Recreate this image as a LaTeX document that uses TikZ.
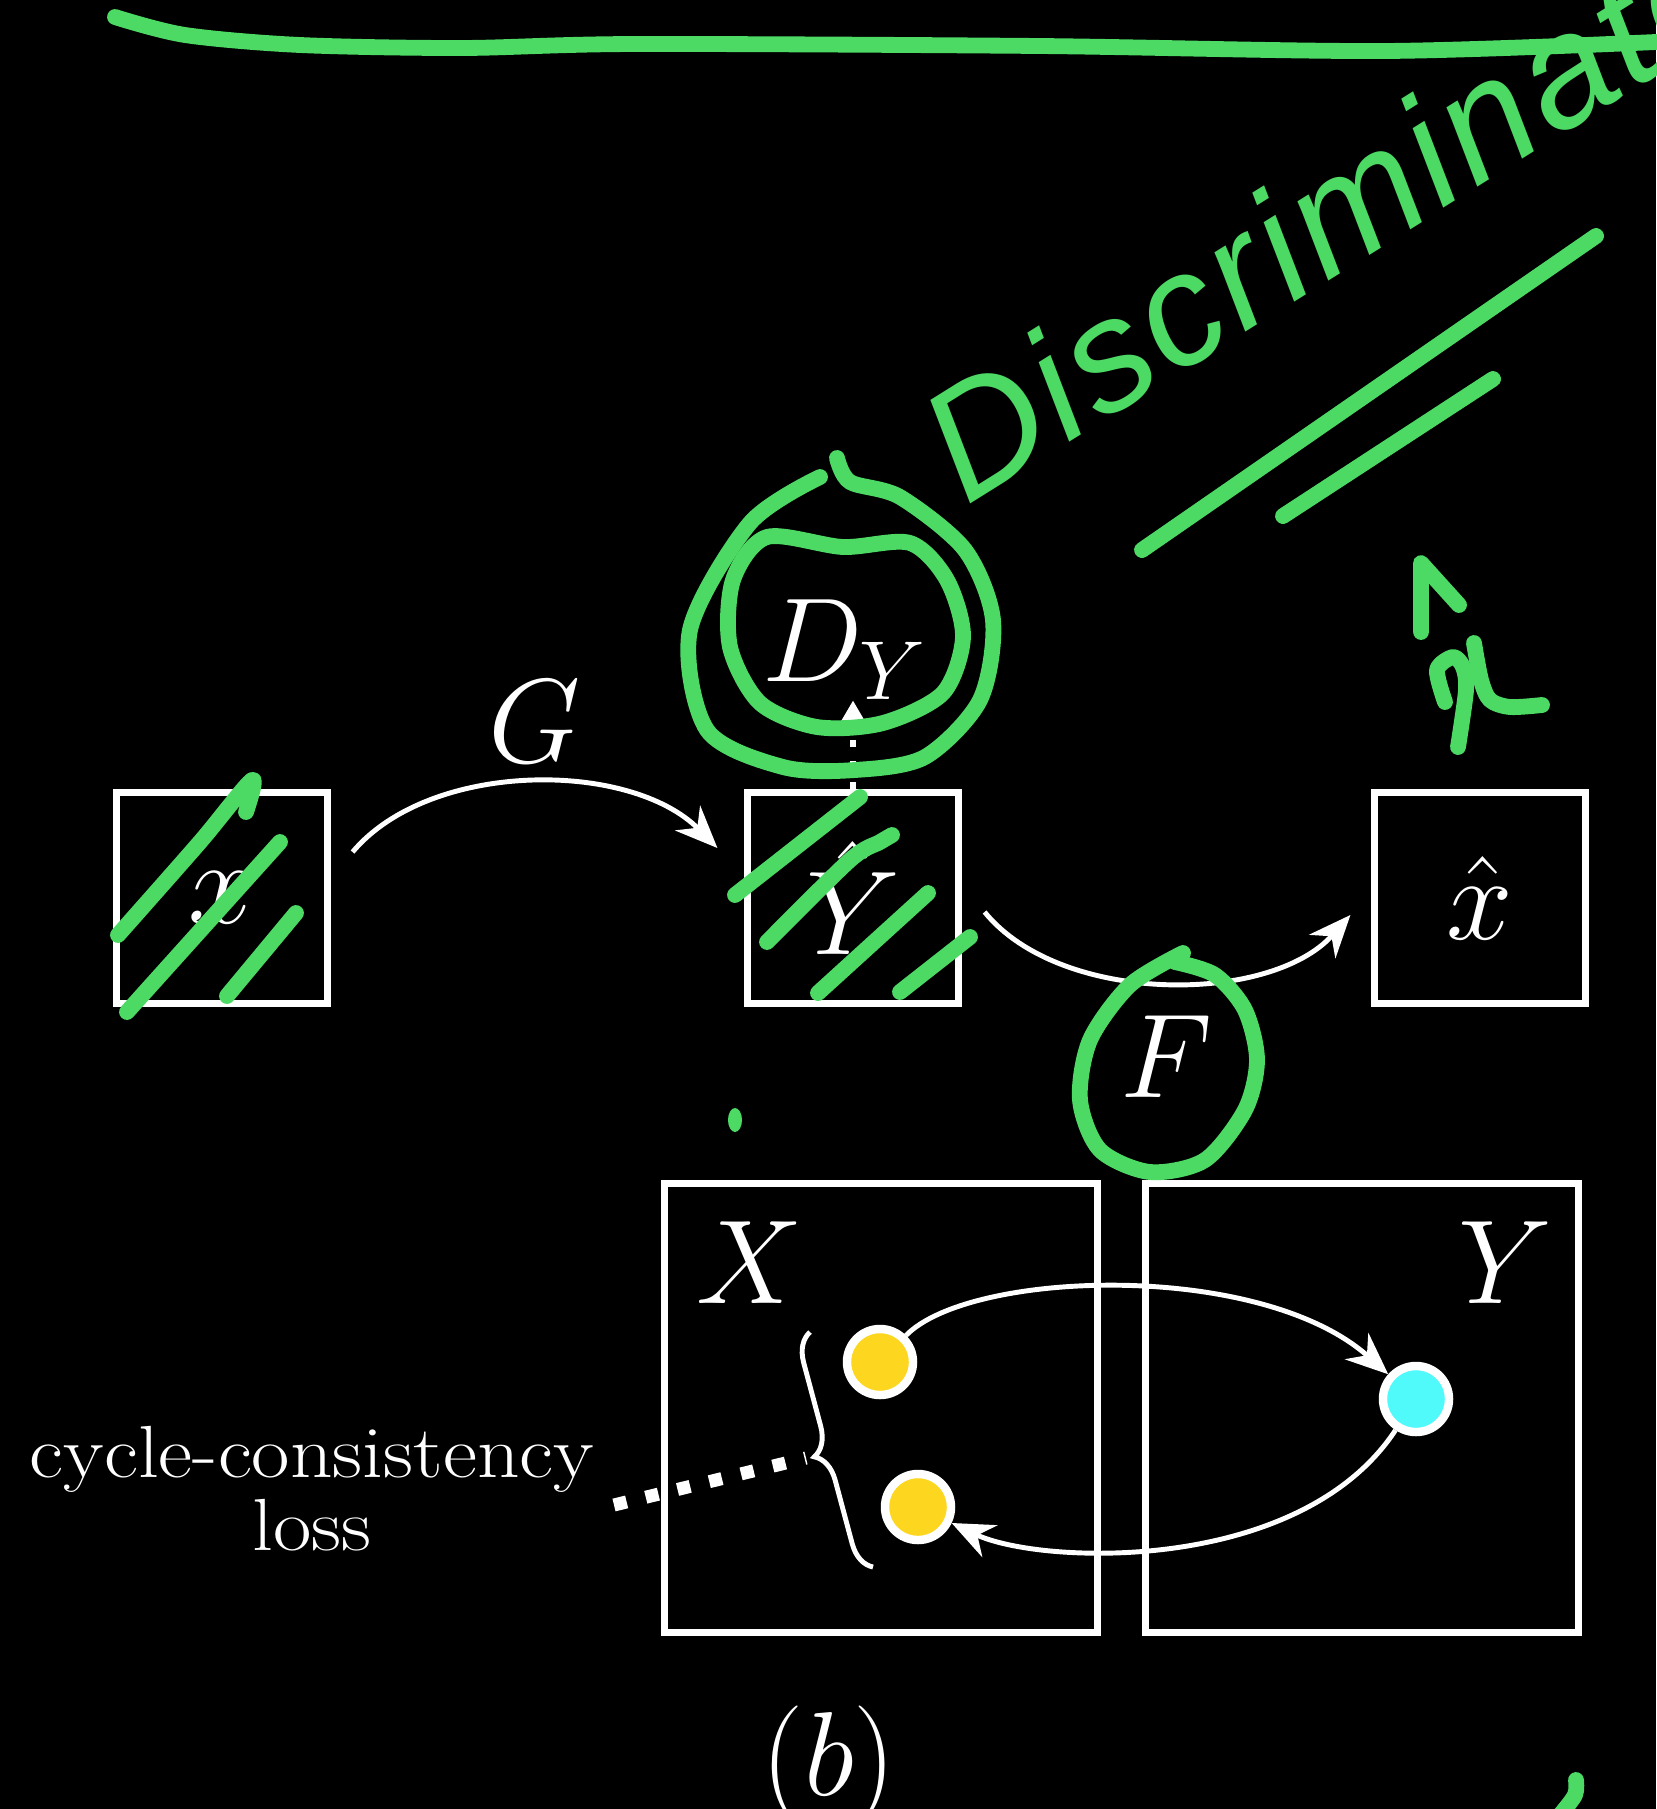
\documentclass[tikz,border=0pt]{standalone}
\usepackage{fix-cm}
\usepackage{amsmath}
\usepackage{fontspec}
\newfontfamily\handfont[LetterSpace=3]{Liberation Sans}
\usetikzlibrary{positioning}
\usetikzlibrary{arrows.meta}
\usetikzlibrary{decorations.pathreplacing}

\definecolor{penmark}{RGB}{76,217,100}
\definecolor{dotyel}{RGB}{253,214,32}
\definecolor{dotcyan}{RGB}{80,250,250}

\tikzset{
  box/.style={draw=white, line width=2pt, minimum width=2.1cm, minimum height=2.1cm},
  lbl/.style={text=white, font=\fontsize{34}{40}\selectfont},
  txt/.style={text=white, font=\fontsize{21}{21}\selectfont, inner sep=0pt, xscale=1.13},
  flow/.style={draw=white, line width=1.4pt, -{Stealth[length=12pt,width=10pt]}},
  pen/.style={draw=penmark, line width=4.5pt, line cap=round, line join=round},
  pt/.style={circle, draw=white, line width=2.4pt, minimum size=0.66cm, inner sep=0pt},
}

\begin{document}
\begin{tikzpicture}[x=0.01cm, y=-0.01cm]
    \fill[black] (0,0) rectangle (1656,1809);
    \useasboundingbox (0,0) rectangle (1656,1809);

    \node [box, lbl] (bx) at (222,898) {$x$};
    \node [box, lbl] (by) at (853,898) {$\hat{Y}$};
    \node [box, lbl] (bxh) at (1480,898) {$\hat{x}$};
    \node [lbl, inner sep=0pt] (dy) at (845,650) {$D_Y$};
    \node [lbl] (lg) at (535,722) {$G$};
    \node [lbl] (lf) at (1167,1057) {$F$};

    \draw[flow] ([shift={(22,-46)}]bx.east) .. controls (430,760) and (630,760) .. ([shift={(-27,-50)}]by.west);
    \draw[flow] ([shift={(23,14)}]by.east) .. controls (1060,1005) and (1270,1005) .. ([shift={(-21,17)}]bxh.west);
    \draw[white, line width=1.6pt, dash pattern=on 2pt off 4pt, -{Triangle[length=9pt,width=10pt]}] (by.north) -- (by.north |- dy.south);

    \node [draw=white, line width=2pt, minimum width=4.33cm, minimum height=4.49cm] (pX) at (881,1408) {};
    \node [draw=white, line width=2pt, minimum width=4.33cm, minimum height=4.49cm] (pY) at (1362,1408) {};
    \node [lbl] (lx) at (750,1263) {$X$};
    \node [lbl] (ly) at (1505,1263) {$Y$};

    \node [pt, fill=dotyel] (a1) at (880,1362) {};
    \node [pt, fill=dotcyan] (c1) at (1416,1399) {};
    \node [pt, fill=dotyel] (a2) at (918,1507) {};
    \draw[flow] (a1) .. controls (970,1270) and (1260,1260) .. (c1);
    \draw[flow] (c1) .. controls (1300,1575) and (1040,1565) .. (a2);

    \coordinate (btop) at (810,1332);
    \coordinate (bbot) at (873,1567);
    \coordinate (btip) at (806,1458);
    \draw[white, line width=1.4pt, decorate, decoration={brace, amplitude=8pt}] (bbot) -- (btop);

    \node [txt, anchor=base] (cl1) at (312,1477) {cycle-consistency};
    \node [txt, anchor=base] (cl2) at (312,1550) {loss};
    \coordinate (lstart) at (614,1505);
    \draw[white, line width=3.7pt, dash pattern=on 3.7pt off 5.6pt] (lstart) -- (btip);

    \node [lbl] (cap) at (829,1766) {$(b)$};

    % green pen marks
    \draw[pen] plot[smooth] coordinates {(115,17) (185,35) (300,45) (462,48) (635,44) (1039,46) (1385,51) (1656,42)};
    \node [rotate=32, anchor=base west, inner sep=0pt, text=penmark, font=\handfont\itshape\fontsize{45}{50}\selectfont] (disc) at (966,507) {Discriminator};
    \draw[pen] (1142,550) -- (1596,236);
    \draw[pen] (1283,516) -- (1493,379);
    \draw[pen] (1421,632) -- (1421,563) -- (1459,605);
    \draw[pen] plot[smooth] coordinates {(1474,643) (1481,680) (1490,700) (1510,707) (1542,705)};
    \draw[pen] plot[smooth] coordinates {(1445,702) (1437,670) (1453,657) (1463,667) (1466,690) (1458,747)};

    \draw[pen] plot[smooth] coordinates {(837,458) (850,482) (900,497) (965,550) (993,620) (980,700) (925,757) (855,770) (783,767) (707,730) (690,630) (750,523) (820,477)};
    \draw[pen] plot[smooth cycle] coordinates {(843,547) (910,543) (947,580) (963,637) (943,693) (883,723) (817,727) (760,703) (730,647) (733,580) (767,537)};

    \draw[pen] plot[smooth] coordinates {(118,935) (200,842) (252,780) (246,812)};
    \draw[pen] (127,1012) -- (280,842);
    \draw[pen] (227,996) -- (296,913);

    \draw[pen] (735,895) -- (860,797);
    \draw[pen] plot[smooth] coordinates {(767,942) (850,860) (880,842) (892,835)};
    \draw[pen] (818,993) -- (928,893);
    \draw[pen] (900,992) -- (970,937);

    \draw[pen] plot[smooth] coordinates {(1183,953) (1130,985) (1090,1040) (1080,1100) (1100,1150) (1150,1172) (1205,1160) (1245,1110) (1257,1060) (1245,1010) (1215,975) (1175,962)};
    \fill[penmark] (735,1120) ellipse [x radius=7, y radius=12];
    \draw[pen] plot[smooth] coordinates {(1576,1780) (1575,1795) (1560,1815)};
  \end{tikzpicture}
\end{document}
